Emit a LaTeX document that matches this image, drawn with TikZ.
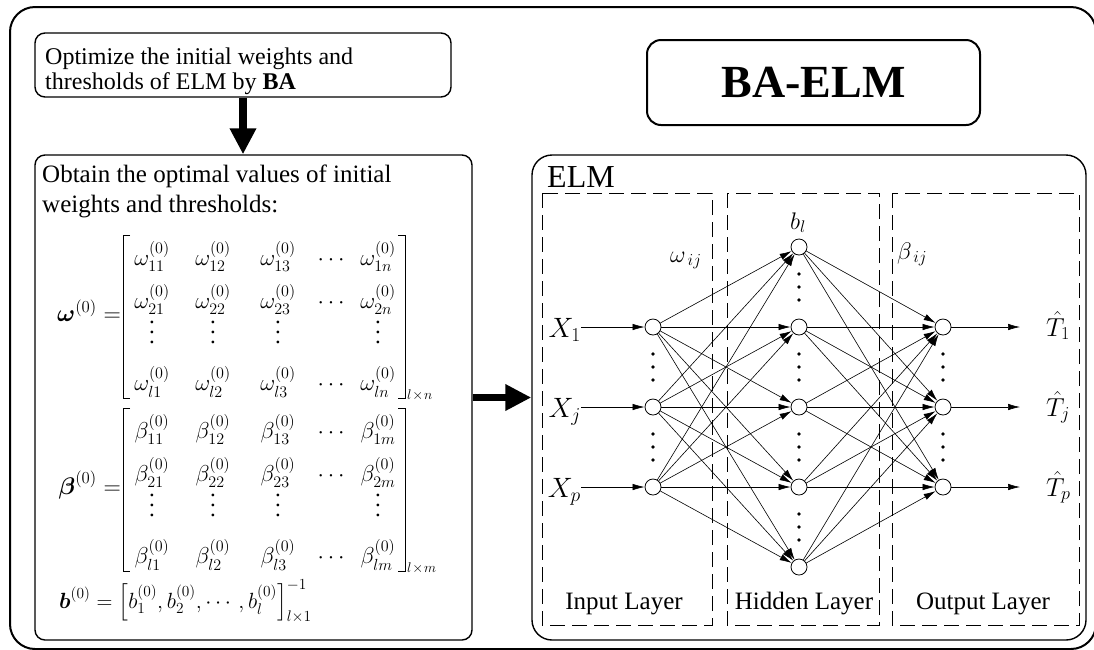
\RequirePackage{fix-cm}
\documentclass[tikz,border=0pt]{standalone}
\usepackage{amsmath}
\usepackage{fontspec}
\setmainfont{Liberation Serif}
\usetikzlibrary{arrows.meta}

% three stacked dots with a wider pitch than \vdots
\newcommand\vdotsx{\vbox{\baselineskip=10pt\lineskiplimit=0pt\hbox{.}\hbox{.}\hbox{.}}}

% a 4-row initial-value matrix: #1 name prefix, #2 symbol, #3 top edge, #4 last column index
\newcommand\initmatrix[4]{%
  \foreach \r/\dy in {1/30,2/73,l/155}{%
    \foreach \c/\x in {1/152,2/213,3/278}
      \node[ent] (#1\r\c) at (\x,#3+\dy) {$#2_{\r\c}^{(0)}$};
    \node[ent] (#1\r d) at (333,#3+\dy) {$\cdots$};
    \node[ent] (#1\r#4) at (378,#3+\dy) {$#2_{\r#4}^{(0)}$};
  }
  \foreach \c/\x in {1/152,2/213,3/278,4/378}
    \node[ent] (#1v\c) at (\x,#3+108) {\vdotsx};
  \draw[brk] (130,#3) -- (123,#3) -- (123,#3+163) -- (130,#3+163);
  \draw[brk] (398,#3) -- (405,#3) -- (405,#3+163) -- (398,#3+163);
  \node[anchor=west, inner sep=0, font=\fontsize{14}{14}\selectfont] (#1size) at (407,#3+160) {$l\!\times\! #4$};
}

\begin{document}
\begin{tikzpicture}[x=1pt, y=-1pt,
  frame/.style={draw, line width=2pt, rounded corners=25pt},
  panel/.style={draw, line width=1.4pt, rounded corners=10pt, inner sep=0},
  layerbox/.style={draw, line width=1pt, dash pattern=on 15pt off 7pt},
  neuron/.style={circle, draw, line width=0.8pt, fill=white, minimum size=16pt, inner sep=0},
  link/.style={line width=0.6pt, -{Latex[length=12pt,width=6.5pt]}},
  bigarrow/.style={line width=7.5pt, -{Triangle[length=26pt,width=25pt]}},
  brk/.style={line width=0.8pt},
  txt/.style={inner sep=0, anchor=base west, font=\fontsize{24}{25}\selectfont},
  txtb/.style={inner sep=0, anchor=base west, font=\fontsize{25}{26}\selectfont},
  ent/.style={inner sep=0, anchor=base, font=\fontsize{23}{26}\selectfont},
  lhs/.style={inner sep=0, anchor=base east, font=\fontsize{24}{26}\selectfont},
  lbl/.style={inner sep=0, anchor=base, font=\fontsize{25}{26}\selectfont},
  io/.style={inner sep=0, font=\fontsize{28}{28}\selectfont},
  wt/.style={inner sep=0, anchor=base west, font=\fontsize{24}{24}\selectfont}
]
\useasboundingbox (0,0) rectangle (1094,649);

% outer frame, running past the right and bottom edges
\node[frame, minimum width=1086pt, minimum height=642pt] (frame) at (553,328) {};

% left column: optimisation step and its result
\node[panel, minimum width=416pt, minimum height=64pt] (opt) at (243,65) {};
\node[txt] (opt1) at (45,64) {Optimize the initial weights and};
\node[txt] (opt2) at (45,89) {thresholds of ELM by \textbf{BA}};

\node[panel, minimum width=437pt, minimum height=485pt] (obt) at (253.5,397.5) {};
\node[txtb] (obt1) at (42,182) {Obtain the optimal values of initial};
\node[txtb] (obt2) at (42,212) {weights and thresholds:};

\draw[bigarrow] (opt.south) -- (opt.south |- obt.north);

% initial weights, output weights and biases
\node[lhs] (wlhs) at (121,321) {$\boldsymbol{\omega}^{(0)}=$};
\initmatrix{w}{\omega}{235}{n}
\node[lhs] (blhs) at (121,494) {$\boldsymbol{\beta}^{(0)}=$};
\initmatrix{b}{\beta}{408}{m}
\node[inner sep=0, anchor=base west, font=\fontsize{22}{24}\selectfont] (bvec) at (59,608)
  {$\boldsymbol{b}^{(0)}=\left[b_1^{(0)},b_2^{(0)},\cdots,b_l^{(0)}\right]_{l\times1}^{-1}$};

% title
\node[panel, line width=2pt, rounded corners=14pt, minimum width=333pt, minimum height=85pt,
      font=\bfseries\fontsize{46}{46}\selectfont] (title) at (813.5,82.5) {BA-ELM};

% ELM network panel
\node[panel, rounded corners=20pt, minimum width=554pt, minimum height=485pt] (elm) at (809,397.5) {};
\node[inner sep=0, anchor=base west, font=\fontsize{32}{32}\selectfont] (elmname) at (547,187) {ELM};
\draw[bigarrow] (obt.east) -- (elm.west);

\draw[layerbox] (542,193) rectangle (712,625);
\draw[layerbox] (727,193) rectangle (879,625);
\draw[layerbox] (892,193) rectangle (1079,625);
\node[lbl] (linput) at (624,609) {Input Layer};
\node[lbl] (lhidden) at (804,609) {Hidden Layer};
\node[lbl] (loutput) at (983,609) {Output Layer};

% neurons
\foreach \k/\y in {1/327,2/407,3/487}{
  \node[neuron] (in\k) at (653,\y) {};
  \node[neuron] (out\k) at (943,\y) {};
}
\foreach \k/\y in {1/247,2/327,3/407,4/487,5/567}
  \node[neuron] (hid\k) at (799,\y) {};

% ellipsis dots between neurons
\foreach \m in {367,447}
  \foreach \d in {-13,0,13}{
    \fill (653,\m+\d) circle (1.8pt);
    \fill (943,\m+\d) circle (1.8pt);
  }
\foreach \m in {287,367,447,527}
  \foreach \d in {-13,0,13}
    \fill (799,\m+\d) circle (1.8pt);

% full connections
\foreach \i in {1,2,3}
  \foreach \h in {1,...,5}
    \draw[link] (in\i) -- (hid\h);
\foreach \h in {1,...,5}
  \foreach \o in {1,2,3}
    \draw[link] (hid\h) -- (out\o);

% inputs and outputs
\node[io, anchor=base east] (X1) at (581,337) {$X_1$};
\node[io, anchor=base east] (X2) at (581,417) {$X_j$};
\node[io, anchor=base east] (X3) at (581,497) {$X_p$};
\foreach \k in {1,2,3}
  \draw[link] (X\k.east |- in\k) -- (in\k);

\foreach \k/\y in {1/327,2/407,3/487}{
  \coordinate (t\k) at (1020,\y);
  \draw[link] (out\k) -- (t\k);
}
\node[io, anchor=base west, font=\fontsize{26}{26}\selectfont] (T1) at (1046,336) {$\hat{T}_1$};
\node[io, anchor=base west, font=\fontsize{26}{26}\selectfont] (T2) at (1046,416) {$\hat{T}_j$};
\node[io, anchor=base west, font=\fontsize{26}{26}\selectfont] (T3) at (1046,496) {$\hat{T}_p$};

% weight and bias labels
\node[wt] (wij) at (670,262) {$\omega_{\,ij}$};
\node[wt] (bl) at (790,229) {$b_l$};
\node[wt] (bij) at (897,259) {$\beta_{\,ij}$};
\end{tikzpicture}
\end{document}
